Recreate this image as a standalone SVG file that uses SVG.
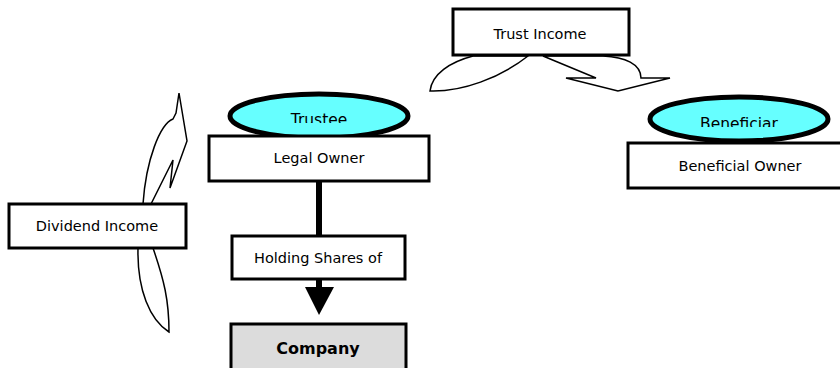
<svg xmlns="http://www.w3.org/2000/svg" width="840" height="368" viewBox="0 0 840 368">
  <style>
    .box { fill: #ffffff; stroke: #000000; stroke-width: 3; }
    .shaded { fill: #dcdcdc; stroke: #000000; stroke-width: 3; }
    .oval { fill: #66ffff; stroke: #000000; stroke-width: 5; }
    .flow { fill: #ffffff; stroke: #000000; stroke-width: 1.5; stroke-linejoin: miter; }
    .label { font-family: "DejaVu Sans", Verdana, sans-serif; font-size: 14.5px; fill: #000000; text-anchor: middle; }
    .role { font-size: 15.5px; }
    .bold { font-size: 16px; font-weight: bold; }
  </style>
  <defs>
    <clipPath id="clipTrustee"><rect x="228" y="95" width="182" height="28"/></clipPath>
    <clipPath id="clipBeneficiary"><rect x="648" y="98" width="182" height="29"/></clipPath>
  </defs>

  <!-- connectors -->
  <g id="connectors">
    <!-- trust income flowing out -->
    <path class="flow" d="M 473,56 C 450,62 432,74 430,91 C 462,92 500,78 528,56 Z"/>
    <path class="flow" d="M 543,56 L 596,78 L 566,78 L 618,91 L 670,78 L 641,78 C 641,64 625,57 603,56 Z"/>
    <!-- dividend income flowing up -->
    <path class="flow" d="M 143,204 C 146,160 160,124 173,119 L 176,113 L 179,93 L 187,141 L 170,188 L 173,160 L 151,204 Z"/>
    <path class="flow" d="M 138,248 C 137,290 150,320 169,332 C 169,300 164,280 153,248 Z"/>
    <!-- legal owner to holding to company -->
    <line x1="319" y1="180" x2="319" y2="236" stroke="#000" stroke-width="6"/>
    <line x1="319" y1="278" x2="319" y2="290" stroke="#000" stroke-width="6"/>
    <polygon points="305,287 334,287 319,315" fill="#000"/>
  </g>

  <g id="trust-income">
    <rect class="box" x="453" y="9" width="176" height="46"/>
    <text class="label" x="540" y="39">Trust Income</text>
  </g>

  <g id="trustee">
    <ellipse class="oval" cx="319" cy="116" rx="89" ry="22"/>
    <text class="label role" x="319" y="125" clip-path="url(#clipTrustee)">Trustee</text>
  </g>

  <g id="legal-owner">
    <rect class="box" x="209" y="136" width="220" height="45"/>
    <text class="label" x="319" y="163">Legal Owner</text>
  </g>

  <g id="beneficiary">
    <ellipse class="oval" cx="739" cy="119" rx="89" ry="22"/>
    <text class="label role" x="739" y="129" clip-path="url(#clipBeneficiary)">Beneficiar</text>
  </g>

  <g id="beneficial-owner">
    <rect class="box" x="628" y="143" width="224" height="45"/>
    <text class="label" x="740" y="171">Beneficial Owner</text>
  </g>

  <g id="dividend-income">
    <rect class="box" x="9" y="204" width="177" height="44"/>
    <text class="label" x="97" y="231">Dividend Income</text>
  </g>

  <g id="holding-shares">
    <rect class="box" x="232" y="236" width="173" height="43"/>
    <text class="label" x="318" y="263">Holding Shares of</text>
  </g>

  <g id="company">
    <rect class="shaded" x="231" y="324" width="175" height="50"/>
    <text class="label bold" x="318" y="354">Company</text>
  </g>
</svg>
